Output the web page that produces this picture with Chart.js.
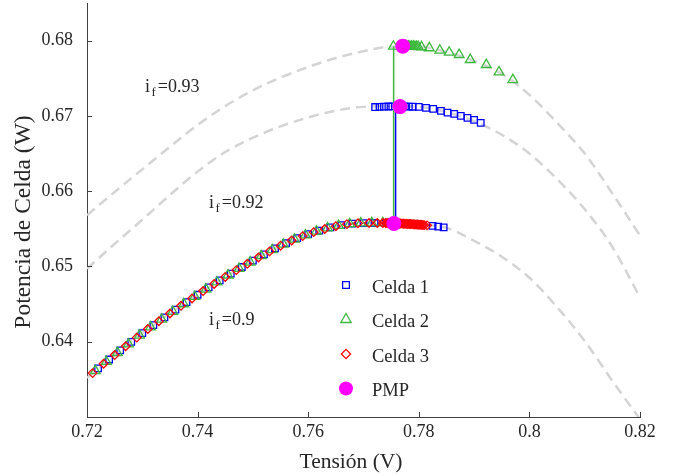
<!DOCTYPE html>
<html lang="es">
<head>
<meta charset="utf-8">
<title>Potencia de Celda</title>
<script src="https://cdn.jsdelivr.net/npm/chart.js@4.4.1/dist/chart.umd.min.js"></script>
<style>
    html, body { margin: 0; padding: 0; background: #fff; }
    #potenciaChart { display: block; }
</style>
</head>
<body>
<canvas id="potenciaChart" width="678" height="476"></canvas>
<script>
/* ====================================
   DATOS
==================================== */

const xTicks = [0.72, 0.74, 0.76, 0.78, 0.8, 0.82];
const xTickLabels = ["0.72", "0.74", "0.76", "0.78", "0.8", "0.82"];
const yTicks = [0.64, 0.65, 0.66, 0.67, 0.68];
const yTickLabels = ["0.64", "0.65", "0.66", "0.67", "0.68"];

// curvas P-V (líneas discontinuas) para cada i_f
const curveV = [0.720, 0.725, 0.730, 0.735, 0.740, 0.745, 0.750, 0.755, 0.760, 0.765, 0.770,
                0.775, 0.780, 0.785, 0.790, 0.795, 0.800, 0.805, 0.810, 0.815, 0.820];
const curveP090 = [0.63521, 0.63823, 0.64113, 0.64375, 0.64624, 0.64861, 0.65077, 0.65276, 0.6543, 0.65535, 0.65576,
                   0.65575, 0.65555, 0.65513, 0.6534, 0.6513, 0.6485, 0.6446, 0.6401, 0.6348, 0.6297];
const curveP092 = [0.6497, 0.6530, 0.6562, 0.6595, 0.6626, 0.6652, 0.6671, 0.6686, 0.6698, 0.6707, 0.6712,
                   0.6713, 0.6712, 0.6705, 0.6693, 0.6675, 0.6650, 0.6616, 0.6576, 0.6526, 0.6459];
const curveP093 = [0.6568, 0.6599, 0.6629, 0.6659, 0.6688, 0.6713, 0.6734, 0.6751, 0.6765, 0.6777, 0.6786,
                   0.6792, 0.6792, 0.6785, 0.6773, 0.6756, 0.6728, 0.6691, 0.6650, 0.6597, 0.6541];

// Celda 1 [V, P]
const celda1 = [
    [0.722, 0.63645], [0.724, 0.63764], [0.726, 0.63884], [0.728, 0.63997], [0.730, 0.64113],
    [0.732, 0.64220], [0.734, 0.64323], [0.736, 0.64426], [0.738, 0.64526], [0.740, 0.64624],
    [0.742, 0.64721], [0.744, 0.64815], [0.746, 0.64906], [0.748, 0.64993], [0.750, 0.65077],
    [0.752, 0.65160], [0.754, 0.65240], [0.756, 0.65311], [0.758, 0.65376], [0.760, 0.65430],
    [0.762, 0.65477], [0.764, 0.65519], [0.766, 0.65549], [0.768, 0.65570], [0.770, 0.65576],
    [0.772, 0.65577], [0.774, 0.65577], [0.776, 0.65572], [0.778, 0.65565], [0.780, 0.65555],
    [0.7825, 0.65538], [0.7835, 0.6553], [0.7845, 0.65519],
    [0.7721, 0.67118], [0.7729, 0.67121], [0.7737, 0.67123], [0.7745, 0.67125], [0.7752, 0.67126],
    [0.7760, 0.67127], [0.7768, 0.67127], [0.7775, 0.67126], [0.7782, 0.67124], [0.7789, 0.67122],
    [0.7800, 0.6712], [0.7813, 0.67107], [0.7826, 0.67093], [0.7840, 0.67067], [0.7852, 0.67044],
    [0.7864, 0.67027], [0.7876, 0.67], [0.7888, 0.66973], [0.7900, 0.66947], [0.7912, 0.66907]
];

// Celda 2 [V, P]
const celda2 = [
    [0.7215, 0.63614], [0.7235, 0.63736], [0.7255, 0.63854], [0.7275, 0.63969], [0.7295, 0.64084],
    [0.7315, 0.64195], [0.7335, 0.64298], [0.7355, 0.64401], [0.7375, 0.64502], [0.7395, 0.646],
    [0.7415, 0.64697], [0.7435, 0.64792], [0.7455, 0.64884], [0.7475, 0.64972], [0.7495, 0.65056],
    [0.7515, 0.6514], [0.7535, 0.6522], [0.7555, 0.65294], [0.7575, 0.65361], [0.7595, 0.65417],
    [0.7615, 0.65467], [0.7635, 0.65509], [0.7655, 0.65542], [0.7675, 0.65566], [0.7695, 0.65575],
    [0.7715, 0.65577], [0.7735, 0.65577], [0.7750, 0.65575],
    [0.7754, 0.67924], [0.7772, 0.67926], [0.7775, 0.67926], [0.7778, 0.67926], [0.7781, 0.67925],
    [0.7784, 0.67924], [0.7787, 0.67923], [0.7790, 0.67922], [0.7793, 0.67921], [0.7796, 0.6792],
    [0.7799, 0.67919], [0.7805, 0.67916], [0.7819, 0.67903], [0.7838, 0.67871], [0.7855, 0.67844],
    [0.7873, 0.67813], [0.7893, 0.67747], [0.7922, 0.6768], [0.7945, 0.67583], [0.7970, 0.6748]
];

// Celda 3 [V, P]
const celda3 = [
    [0.721, 0.63583], [0.723, 0.63707], [0.725, 0.63823], [0.727, 0.63940], [0.729, 0.64055],
    [0.731, 0.64169], [0.733, 0.64272], [0.735, 0.64375], [0.737, 0.64477], [0.739, 0.64575],
    [0.741, 0.64673], [0.743, 0.64768], [0.745, 0.64861], [0.747, 0.64951], [0.749, 0.65035],
    [0.751, 0.65119], [0.753, 0.65200], [0.755, 0.65276], [0.757, 0.65345], [0.759, 0.65403],
    [0.761, 0.65456], [0.763, 0.65498], [0.765, 0.65535], [0.767, 0.65562], [0.769, 0.65573],
    [0.771, 0.65577], [0.7725, 0.65577], [0.7735, 0.65577], [0.7740, 0.65577], [0.77425, 0.65577],
    [0.7745, 0.65576], [0.77475, 0.65576], [0.7750, 0.65575], [0.77525, 0.65575], [0.7755, 0.65574],
    [0.77575, 0.65573], [0.7760, 0.65572], [0.77625, 0.65572], [0.7765, 0.65571], [0.77675, 0.6557],
    [0.7770, 0.65569], [0.77725, 0.65568], [0.7775, 0.65567], [0.77775, 0.65566], [0.7780, 0.65565],
    [0.77825, 0.65564], [0.7785, 0.65563], [0.77875, 0.65562], [0.7790, 0.6556], [0.77925, 0.65559],
    [0.7795, 0.65558], [0.77975, 0.65557], [0.7800, 0.65555], [0.78025, 0.65554], [0.7805, 0.65552],
    [0.78075, 0.6555], [0.7810, 0.65549], [0.7815, 0.65546]
];

// punto de máxima potencia
const pmp = [[0.7755, 0.6557], [0.7766, 0.67124], [0.7771, 0.67927]];

// saltos de curva
const saltoCelda1 = [[0.7758, 0.65572], [0.7758, 0.67127]];
const saltoCelda2 = [[0.77545, 0.65575], [0.77545, 0.67924]];

/* ====================================
   ESTILO
==================================== */

const FONT = "'Liberation Serif', 'Times New Roman', serif";
const TEXT_COLOR = "#262626";
const AXIS_COLOR = "#404040";
const BLUE = "#0000ff";
const GREEN = "#3cb83c";
const RED = "#ff0000";
const MAGENTA = "#ff00ff";
const DASH_COLOR = "#d4d4d4";

const legendItems = [
    { label: "Celda 1", style: "rect", color: BLUE, radius: 4.8, filled: false },
    { label: "Celda 2", style: "triangle", color: GREEN, radius: 6, filled: false },
    { label: "Celda 3", style: "rectRot", color: RED, radius: 4.6, filled: false },
    { label: "PMP", style: "circle", color: MAGENTA, radius: 7, filled: true }
];

const ifLabels = [
    { value: "0.93", x: 145, y: 92 },
    { value: "0.92", x: 209, y: 208 },
    { value: "0.9", x: 209, y: 325 }
];

document.addEventListener("DOMContentLoaded", () => {

    createPotenciaChart();

});

/* ====================================
   HELPERS
==================================== */

function toPoints(pairs) {

    return pairs.map(p => ({ x: p[0], y: p[1] }));

}

function curvePoints(values) {

    return curveV.map((v, i) => ({ x: v, y: values[i] }));

}

function dashedCurve(values) {

    return {
        data: curvePoints(values),
        showLine: true,
        borderColor: DASH_COLOR,
        borderWidth: 2.5,
        borderDash: [10, 6],
        pointRadius: 0,
        cubicInterpolationMode: "monotone",
        fill: false,
        order: 6
    };

}

function markerSet(pairs, style, color, radius, order) {

    return {
        data: toPoints(pairs),
        showLine: false,
        pointStyle: style,
        pointRadius: radius,
        pointBorderColor: color,
        pointBackgroundColor: "rgba(0,0,0,0)",
        pointBorderWidth: 1.3,
        order: order
    };

}

function jumpLine(pairs, color) {

    return {
        data: toPoints(pairs),
        showLine: true,
        borderColor: color,
        borderWidth: 1.5,
        pointRadius: 0,
        order: 2.5
    };

}

function drawMarker(ctx, item, x, y) {

    const r = item.radius;

    ctx.beginPath();

    if (item.style === "rect") {
        const s = r * Math.SQRT1_2;
        ctx.rect(x - s, y - s, 2 * s, 2 * s);
    } else if (item.style === "triangle") {
        for (let k = 0; k < 3; k++) {
            const a = k * 2 * Math.PI / 3;
            const px = x + Math.sin(a) * r;
            const py = y - Math.cos(a) * r;
            if (k === 0) ctx.moveTo(px, py); else ctx.lineTo(px, py);
        }
        ctx.closePath();
    } else if (item.style === "rectRot") {
        ctx.moveTo(x, y - r);
        ctx.lineTo(x + r, y);
        ctx.lineTo(x, y + r);
        ctx.lineTo(x - r, y);
        ctx.closePath();
    } else {
        ctx.arc(x, y, r, 0, Math.PI * 2);
    }

    if (item.filled) {
        ctx.fillStyle = item.color;
        ctx.fill();
    } else {
        ctx.strokeStyle = item.color;
        ctx.lineWidth = 1.3;
        ctx.stroke();
    }

}

/* ====================================
   DECORACIÓN (ticks, textos, leyenda)
==================================== */

const decorPlugin = {

    id: "decor",

    afterDatasetsDraw(chart) {

        const { ctx, chartArea, scales } = chart;

        ctx.save();
        ctx.strokeStyle = AXIS_COLOR;
        ctx.lineWidth = 1;
        ctx.beginPath();

        xTicks.forEach(v => {
            const px = Math.round(scales.x.getPixelForValue(v)) + 0.5;
            ctx.moveTo(px, chartArea.bottom);
            ctx.lineTo(px, chartArea.bottom - 5);
        });

        yTicks.forEach(v => {
            const py = Math.round(scales.y.getPixelForValue(v)) + 0.5;
            ctx.moveTo(chartArea.left, py);
            ctx.lineTo(chartArea.left + 5, py);
        });

        ctx.stroke();

        // etiquetas de ticks
        ctx.fillStyle = TEXT_COLOR;
        ctx.font = "18px " + FONT;
        ctx.textBaseline = "middle";

        ctx.textAlign = "center";
        xTicks.forEach((v, i) => {
            ctx.fillText(xTickLabels[i], scales.x.getPixelForValue(v), chartArea.bottom + 15);
        });

        ctx.textAlign = "right";
        yTicks.forEach((v, i) => {
            ctx.fillText(yTickLabels[i], chartArea.left - 14, scales.y.getPixelForValue(v));
        });

        ctx.restore();

    },

    afterDraw(chart) {

        const ctx = chart.ctx;

        ctx.save();
        ctx.fillStyle = TEXT_COLOR;
        ctx.textBaseline = "alphabetic";

        // etiquetas i_f
        ifLabels.forEach(lbl => {
            ctx.textAlign = "left";
            ctx.font = "18px " + FONT;
            ctx.fillText("i", lbl.x, lbl.y);
            let cx = lbl.x + ctx.measureText("i").width + 1.5;
            ctx.font = "13px " + FONT;
            ctx.fillText("f", cx, lbl.y + 4);
            cx += ctx.measureText("f").width + 2;
            ctx.font = "18px " + FONT;
            ctx.fillText("=" + lbl.value, cx, lbl.y);
        });

        // leyenda
        legendItems.forEach((item, i) => {
            const y = 285 + i * 34.5;
            drawMarker(ctx, item, 346, y);
            ctx.fillStyle = TEXT_COLOR;
            ctx.font = "18.5px " + FONT;
            ctx.textAlign = "left";
            ctx.fillText(item.label, 372, y + 7.5);
        });

        // títulos de ejes
        ctx.fillStyle = TEXT_COLOR;
        ctx.textAlign = "center";
        ctx.textBaseline = "middle";

        ctx.font = "21.5px " + FONT;
        ctx.fillText("Tensión (V)", 351, 462);

        ctx.font = "23.5px " + FONT;
        ctx.translate(24, 222);
        ctx.rotate(-Math.PI / 2);
        ctx.fillText("Potencia de Celda (W)", 0, 0);

        ctx.restore();

    }

};

/* ====================================
   GRÁFICO
==================================== */

function createPotenciaChart() {

    const canvas = document.getElementById("potenciaChart");

    if (!canvas) return;

    Chart.defaults.font.family = FONT;
    Chart.defaults.color = TEXT_COLOR;

    new Chart(canvas, {

        type: "scatter",

        data: {
            datasets: [
                Object.assign(markerSet(pmp, "circle", MAGENTA, 7.5, 0), {
                    pointBackgroundColor: MAGENTA,
                    pointBorderWidth: 0
                }),
                markerSet(celda3, "rectRot", RED, 4.3, 1),
                markerSet(celda2, "triangle", GREEN, 5.6, 2),
                jumpLine(saltoCelda2, GREEN),
                jumpLine(saltoCelda1, BLUE),
                markerSet(celda1, "rect", BLUE, 4.6, 3),
                dashedCurve(curveP090),
                dashedCurve(curveP092),
                dashedCurve(curveP093)
            ]
        },

        plugins: [decorPlugin],

        options: {

            responsive: false,
            animation: false,
            devicePixelRatio: 1,
            events: [],

            layout: {
                autoPadding: false,
                padding: { left: 0, right: 38, top: 3, bottom: 0 }
            },

            plugins: {
                legend: { display: false },
                tooltip: { enabled: false }
            },

            scales: {

                x: {
                    type: "linear",
                    min: 0.72,
                    max: 0.82,
                    afterBuildTicks: s => { s.ticks = xTicks.map(v => ({ value: v })); },
                    afterFit: s => {
                        s.height = 59;
                        s.paddingLeft = 0;
                        s.paddingRight = 0;
                    },
                    ticks: { display: false },
                    grid: { display: false, drawTicks: false },
                    border: { display: true, color: AXIS_COLOR, width: 1 }
                },

                y: {
                    type: "linear",
                    min: 0.63,
                    max: 0.685,
                    afterBuildTicks: s => { s.ticks = yTicks.map(v => ({ value: v })); },
                    afterFit: s => {
                        s.width = 87;
                        s.paddingTop = 0;
                        s.paddingBottom = 0;
                    },
                    ticks: { display: false },
                    grid: { display: false, drawTicks: false },
                    border: { display: true, color: AXIS_COLOR, width: 1 }
                }

            }

        }

    });

}
</script>
</body>
</html>
